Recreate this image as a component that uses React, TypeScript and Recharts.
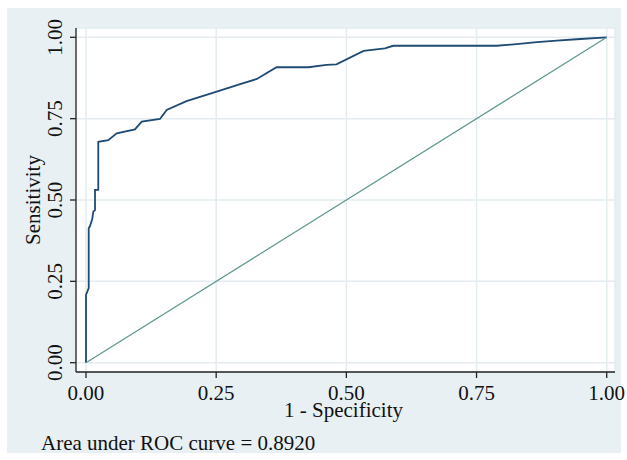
import React from 'react';
import { LineChart, Line, XAxis, YAxis, CartesianGrid, Label } from 'recharts';

const fprValues = [0, 0, 0.0052, 0.0052, 0.0077, 0.0121, 0.014, 0.0173, 0.0173, 0.0217, 0.0236, 0.0236, 0.0428, 0.059, 0.094, 0.107, 0.142, 0.155, 0.193, 0.251, 0.296, 0.328, 0.366, 0.427, 0.462, 0.481, 0.533, 0.574, 0.59, 0.789, 0.827, 0.866, 0.904, 0.942, 1];
const tprValues = [0, 0.208, 0.229, 0.413, 0.42, 0.4425, 0.464, 0.469, 0.531, 0.531, 0.531, 0.679, 0.684, 0.705, 0.717, 0.741, 0.749, 0.777, 0.804, 0.833, 0.856, 0.872, 0.908, 0.908, 0.915, 0.917, 0.958, 0.966, 0.974, 0.974, 0.979, 0.985, 0.99, 0.994, 1];
const refX = [0, 1];
const refY = [0, 1];
const tickValues = [0, 0.25, 0.5, 0.75, 1];
const xTitle = '1 - Specificity';
const yTitle = 'Sensitivity';
const note = 'Area under ROC curve = 0.8920';

const rocData = fprValues.map((f, i) => ({ fpr: f, tpr: tprValues[i] }));
const refData = refX.map((f, i) => ({ fpr: f, ref: refY[i] }));

const FONT = '"Liberation Serif", "Times New Roman", serif';
const BG = '#e8f0f3';
const GRID = '#e3ecef';
const AXIS = '#222';

const YTick = (props: any) => {
  const { x, y, payload } = props;
  return (
    <text
      x={x}
      y={y}
      transform={`rotate(-90, ${x}, ${y})`}
      textAnchor="middle"
      fontFamily={FONT}
      fontSize={21}
      fill="#111"
    >
      {Number(payload.value).toFixed(2)}
    </text>
  );
};

export default function App() {
  return (
    <div style={{ position: 'absolute', left: 0, top: 0, width: 627, height: 460, background: '#fff' }}>
      <svg width={627} height={460} style={{ position: 'absolute', left: 0, top: 0 }}>
        <rect x={7} y={8} width={614} height={445} fill={BG} />
        <text x={41} y={450} fontFamily={FONT} fontSize={21} fill="#111">
          {note}
        </text>
      </svg>
      <div style={{ position: 'absolute', left: 0, top: 0 }}>
        <LineChart width={627} height={460} margin={{ top: 28, right: 12, left: 0, bottom: 0 }}>
          <CartesianGrid fill="#ffffff" stroke={GRID} strokeWidth={1.5} />
          <XAxis
            dataKey="fpr"
            type="number"
            domain={[-0.0192, 1.0159]}
            ticks={tickValues}
            allowDataOverflow
            height={88}
            tickSize={6}
            tickMargin={7}
            tickFormatter={(v: number) => v.toFixed(2)}
            tick={{ fontFamily: FONT, fontSize: 21, fill: '#111' }}
            axisLine={{ stroke: AXIS, strokeWidth: 1.3 }}
            tickLine={{ stroke: AXIS, strokeWidth: 1.3 }}
          >
            <Label
              content={(p: any) => {
                const vb = p.viewBox;
                return (
                  <text
                    x={vb.x + vb.width / 2 - 2}
                    y={vb.y + 45}
                    textAnchor="middle"
                    fontFamily={FONT}
                    fontSize={21}
                    fill="#111"
                  >
                    {xTitle}
                  </text>
                );
              }}
            />
          </XAxis>
          <YAxis
            type="number"
            domain={[-0.0286, 1.0286]}
            ticks={tickValues}
            allowDataOverflow
            width={76}
            tickSize={6}
            tickMargin={8}
            tick={<YTick />}
            axisLine={{ stroke: AXIS, strokeWidth: 1.3 }}
            tickLine={{ stroke: AXIS, strokeWidth: 1.3 }}
          >
            <Label
              content={(p: any) => {
                const vb = p.viewBox;
                const cx = vb.x + 40;
                const cy = vb.y + vb.height / 2;
                return (
                  <text
                    x={cx}
                    y={cy}
                    transform={`rotate(-90, ${cx}, ${cy})`}
                    textAnchor="middle"
                    fontFamily={FONT}
                    fontSize={21}
                    fill="#111"
                  >
                    {yTitle}
                  </text>
                );
              }}
            />
          </YAxis>
          <Line
            data={rocData}
            dataKey="tpr"
            type="linear"
            stroke="#1f4a73"
            strokeWidth={1.8}
            dot={false}
            isAnimationActive={false}
          />
          <Line
            data={refData}
            dataKey="ref"
            type="linear"
            stroke="#5e9690"
            strokeWidth={1.2}
            dot={false}
            isAnimationActive={false}
          />
        </LineChart>
      </div>
    </div>
  );
}
